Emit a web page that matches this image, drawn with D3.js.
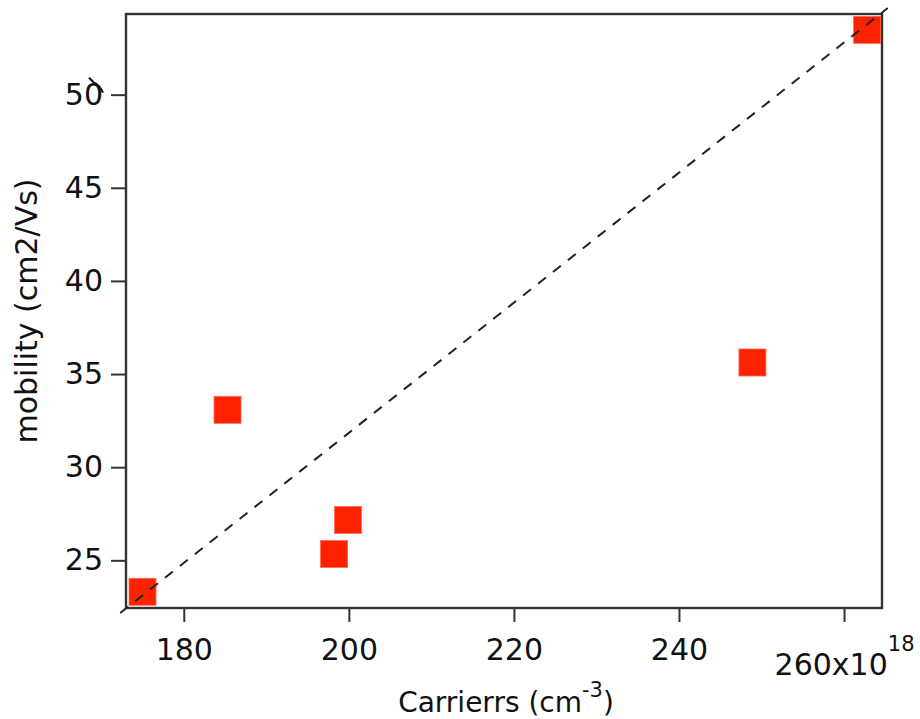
<!DOCTYPE html>
<html>
<head>
<meta charset="utf-8">
<script src="https://cdn.jsdelivr.net/npm/d3@7"></script>
<style>
  html, body { margin: 0; padding: 0; background: #fff; }
  svg { display: block; font-family: "DejaVu Sans", sans-serif; }
</style>
</head>
<body>
<svg id="chart" width="920" height="719"></svg>
<script>
// Carrier concentration (x10^18 cm^-3) and Hall mobility (cm2/Vs)
const carriers = [175.0, 185.3, 198.2, 199.9, 248.9, 262.8];
const mobility = [23.31, 33.08, 25.34, 27.17, 35.62, 53.48];

// Guide line endpoints
const guideX = [172.3, 265.3];
const guideY = [22.17, 54.65];

// Axis ticks
const xTicks = [180, 200, 220, 240, 260];
const yTicks = [25, 30, 35, 40, 45, 50];
const xDomain = [173.0, 264.6];
const yDomain = [22.44, 54.33];

const svg = d3.select("#chart");
const plot = { left: 126, right: 882, top: 14, bottom: 608 };

const x = d3.scaleLinear().domain(xDomain).range([plot.left, plot.right]);
const y = d3.scaleLinear().domain(yDomain).range([plot.bottom, plot.top]);

const axisColor = "#333";
const tickFont = 30;

// Y axis
const gy = svg.append("g")
  .attr("transform", `translate(${plot.left},0)`)
  .call(d3.axisLeft(y).tickValues(yTicks).tickSize(15).tickPadding(8).tickFormat(d3.format("d")));
gy.select(".domain").remove();
gy.selectAll(".tick line").attr("stroke", axisColor).attr("stroke-width", 2);
gy.selectAll(".tick text").attr("font-size", tickFont).attr("fill", "#111")
  .attr("font-family", "DejaVu Sans, sans-serif");

// X axis
const gx = svg.append("g")
  .attr("transform", `translate(0,${plot.bottom})`)
  .call(d3.axisBottom(x).tickValues(xTicks).tickSize(14).tickPadding(17).tickFormat(d3.format("d")));
gx.select(".domain").remove();
gx.selectAll(".tick line").attr("stroke", axisColor).attr("stroke-width", 2);
gx.selectAll(".tick text").attr("font-size", tickFont).attr("fill", "#111")
  .attr("font-family", "DejaVu Sans, sans-serif")
  .attr("dy", null).attr("y", 52);

// Last x label carries the x10^18 multiplier
gx.selectAll(".tick text")
  .filter(d => d === xTicks[xTicks.length - 1])
  .each(function(d) {
    const t = d3.select(this);
    t.text(null).attr("y", 67);
    t.append("tspan").text(d + "x10");
    t.append("tspan").attr("font-size", 21).attr("dy", -24).text("18");
  });

// Plot frame
svg.append("rect")
  .attr("x", plot.left).attr("y", plot.top)
  .attr("width", plot.right - plot.left).attr("height", plot.bottom - plot.top)
  .attr("fill", "none").attr("stroke", axisColor).attr("stroke-width", 2.4);

// Data markers
const size = 27;
svg.append("g").selectAll("rect")
  .data(d3.range(carriers.length))
  .join("rect")
  .attr("x", i => x(carriers[i]) - size / 2)
  .attr("y", i => y(mobility[i]) - size / 2)
  .attr("width", size).attr("height", size)
  .attr("fill", "#ff2200")
  .attr("stroke", "#ff6a55").attr("stroke-width", 0.8);

// Dashed guide line
svg.append("line")
  .attr("x1", x(guideX[0])).attr("y1", y(guideY[0]))
  .attr("x2", x(guideX[1])).attr("y2", y(guideY[1]))
  .attr("stroke", "#222").attr("stroke-width", 2)
  .attr("stroke-dasharray", "10,9");

// Small stray stroke by the top y label
const t50 = y(50);
svg.append("path")
  .attr("d", `M89,${t50 - 17} L94,${t50 - 12} Q100,${t50 - 9} 103,${t50 - 2}`)
  .attr("fill", "none").attr("stroke", "#111").attr("stroke-width", 2.2);

// X axis title
const xt = svg.append("text")
  .attr("x", (plot.left + plot.right) / 2 + 2).attr("y", 711.5)
  .attr("text-anchor", "middle").attr("font-size", 28).attr("fill", "#111");
xt.append("tspan").text("Carrierrs (cm");
xt.append("tspan").attr("font-size", 21).attr("dy", -15).text("-3");
xt.append("tspan").attr("dy", 15).text(")");

// Y axis title
svg.append("text")
  .attr("transform", `translate(37,${(plot.top + plot.bottom) / 2}) rotate(-90)`)
  .attr("text-anchor", "middle").attr("font-size", 30).attr("fill", "#111")
  .text("mobility (cm2/Vs)");
</script>
</body>
</html>
